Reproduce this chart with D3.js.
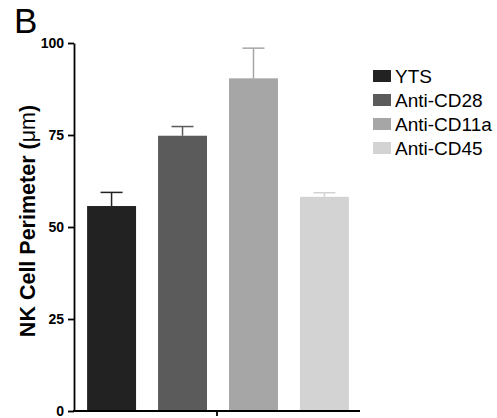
<!DOCTYPE html>
<html><head><meta charset="utf-8">
<script src="https://cdn.jsdelivr.net/npm/d3@7"></script>
<style>body{margin:0;background:#fff}svg{display:block}</style>
</head><body>
<svg id="c" width="497" height="418"></svg>
<script>
const categories = ["YTS", "Anti-CD28", "Anti-CD11a", "Anti-CD45"];
const values = [55.7, 74.8, 90.4, 58.2];
const errors = [3.7, 2.5, 8.2, 1.1];
const colors = ["#222222", "#5b5b5b", "#a6a6a6", "#d3d3d3"];
const yTicks = [0, 25, 50, 75, 100];
const yLabel = "NK Cell Perimeter (";
const yUnit = "\u03BCm";
const panelLetter = "B";

const svg = d3.select("#c");

const x = d3.scaleBand().domain(categories).range([80, 356]).paddingInner(0.31).paddingOuter(0.1);
const y = d3.scaleLinear().domain([0, 100]).range([411, 43]);

// bars
svg.selectAll("rect.bar").data(categories).join("rect")
  .attr("x", d => x(d)).attr("width", x.bandwidth())
  .attr("y", (d, i) => y(values[i])).attr("height", (d, i) => y(0) - y(values[i]))
  .attr("fill", (d, i) => colors[i]);

// error bars
const eg = svg.selectAll("g.err").data(categories).join("g");
eg.append("line")
  .attr("x1", d => x(d) + x.bandwidth()/2).attr("x2", d => x(d) + x.bandwidth()/2)
  .attr("y1", (d, i) => y(values[i])).attr("y2", (d, i) => y(values[i] + errors[i]))
  .attr("stroke", (d, i) => colors[i]).attr("stroke-width", 1.5);
eg.append("line")
  .attr("x1", d => x(d) + x.bandwidth()/2 - 11).attr("x2", d => x(d) + x.bandwidth()/2 + 11)
  .attr("y1", (d, i) => y(values[i] + errors[i])).attr("y2", (d, i) => y(values[i] + errors[i]))
  .attr("stroke", (d, i) => colors[i]).attr("stroke-width", 1.5);

// y axis
const ya = svg.append("g").attr("transform", "translate(74,0)")
  .call(d3.axisLeft(y).tickValues(yTicks).tickSize(6).tickSizeOuter(0).tickPadding(4));
ya.select(".domain").attr("stroke", "#000").attr("stroke-width", 1.8);
ya.selectAll(".tick line").attr("stroke", "#000").attr("stroke-width", 1.8);
ya.selectAll(".tick text").attr("font-family", "Liberation Sans, Arial, sans-serif")
  .attr("font-weight", "bold").attr("font-size", 14).attr("fill", "#000");

// x axis
const xa = svg.append("g").attr("transform", "translate(0,411)");
xa.append("line").attr("x1", 73).attr("x2", 360).attr("stroke", "#000").attr("stroke-width", 1.8);
xa.append("line").attr("x1", 217).attr("x2", 217).attr("y1", 0).attr("y2", 5).attr("stroke", "#000").attr("stroke-width", 1.8);

// y label
const yl = svg.append("text")
  .attr("transform", "translate(35,221) rotate(-90)")
  .attr("text-anchor", "middle")
  .attr("font-family", "Liberation Sans, Arial, sans-serif")
  .attr("font-size", 21.5).attr("font-weight", "bold").attr("fill", "#000");
yl.append("tspan").text(yLabel);
yl.append("tspan").attr("font-weight", "normal").text(yUnit);
yl.append("tspan").text(")");

// panel letter
svg.append("text").attr("x", 14).attr("y", 33)
  .attr("font-family", "Liberation Sans, Arial, sans-serif")
  .attr("font-size", 35).attr("fill", "#000").text(panelLetter);

// legend
const lg = svg.selectAll("g.leg").data(categories).join("g")
  .attr("transform", (d, i) => `translate(373,${70 + i * 24})`);
lg.append("rect").attr("width", 18).attr("height", 12).attr("fill", (d, i) => colors[i]);
lg.append("text").attr("x", 22).attr("y", 12.8)
  .attr("font-family", "Liberation Sans, Arial, sans-serif")
  .attr("font-size", 19).attr("fill", "#000").text(d => d);
</script>
</body></html>
